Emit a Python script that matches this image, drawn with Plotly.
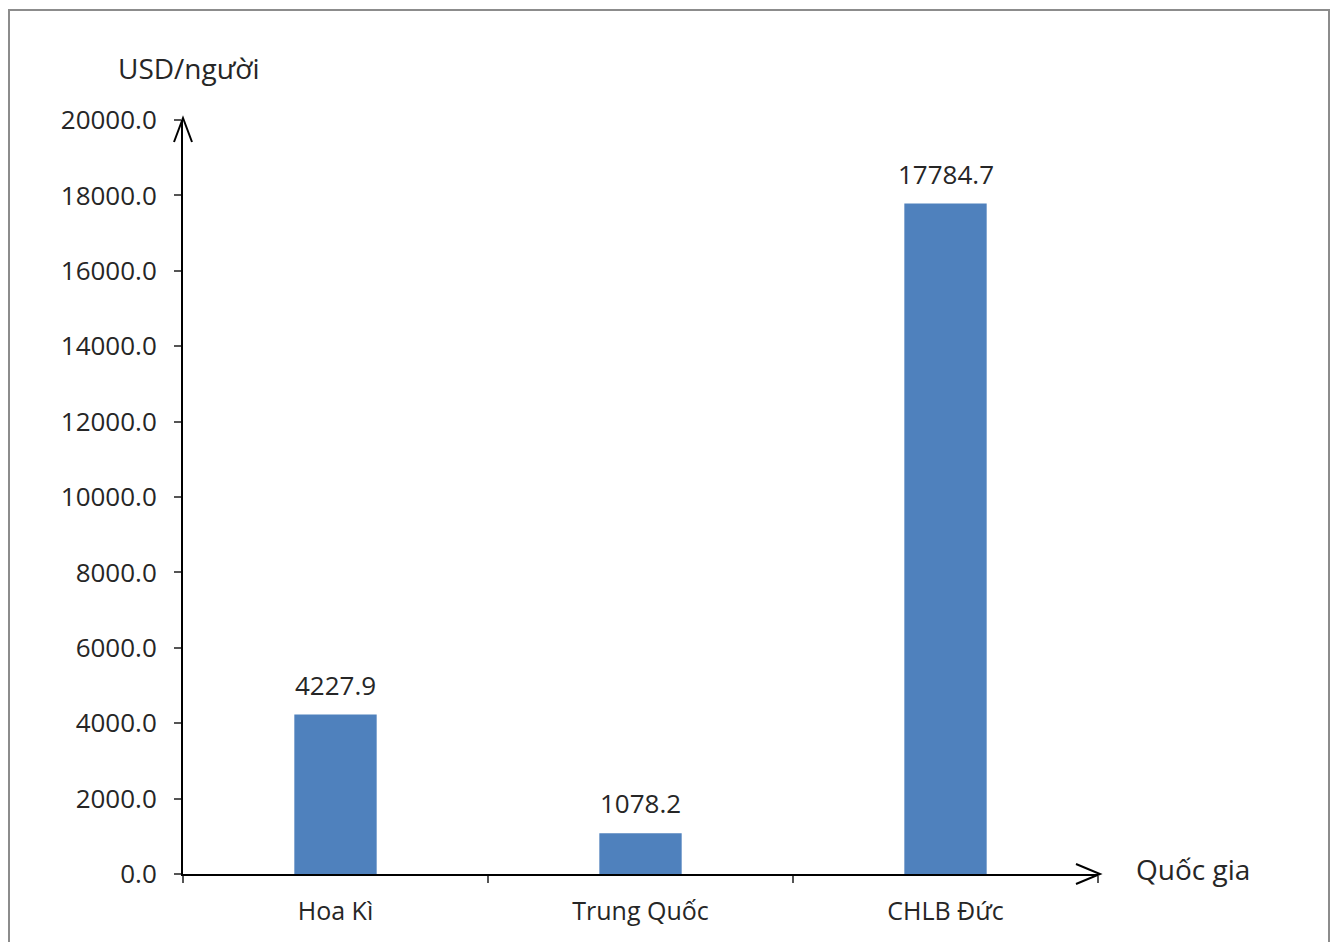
import plotly.graph_objects as go

categories = ["Hoa Kì", "Trung Quốc", "CHLB Đức"]
values = [4227.9, 1078.2, 17784.7]
y_ticks = [0, 2000, 4000, 6000, 8000, 10000, 12000, 14000, 16000, 18000, 20000]

# page has an 8px body margin: compensate
OFF = 8
W, H = 1339 - OFF, 942 - OFF
L, R, T, B = 183 - OFF, 241, 120 - OFF, 68

font_family = "Open Sans"
text_color = "#262626"

fig = go.Figure(go.Bar(
    x=categories, y=values,
    marker=dict(color="#4F81BD", line=dict(width=0)),
    width=0.27,
))

# data labels above bars, positioned through the data axes
for c, v in zip(categories, values):
    fig.add_annotation(x=c, y=v, xref="x", yref="y", text=f"{v:.1f}",
                       showarrow=False, yanchor="middle", yshift=30,
                       font=dict(family=font_family, size=26, color=text_color))

fig.update_layout(
    width=W, height=H,
    margin=dict(l=L, r=R, t=T, b=B),
    paper_bgcolor="white", plot_bgcolor="white",
    showlegend=False,
    font=dict(family=font_family, size=26, color=text_color),
)

fig.update_xaxes(
    type="category", range=[-0.5, 2.5],
    showline=True, linecolor="black", linewidth=2,
    ticks="outside", tickson="boundaries", ticklen=7, tickcolor="#555", tickwidth=1.5,
    showgrid=False, zeroline=False, ticklabelstandoff=14,
    tickfont=dict(family=font_family, size=25, color=text_color),
)
fig.update_yaxes(
    range=[0, 20000], tickvals=y_ticks, ticktext=[f"{v:.1f}" for v in y_ticks],
    showline=True, linecolor="black", linewidth=2,
    ticks="outside", ticklen=7, tickcolor="#555", tickwidth=1.5,
    showgrid=False, zeroline=False, ticklabelstandoff=12,
    tickfont=dict(family=font_family, size=26, color=text_color),
)

pw, ph = W - L - R, H - T - B

# Outer border (page coords: left 9, top 10, right 1329)
fig.add_shape(type="rect", xref="paper", yref="paper",
              x0=-(L - (9 - OFF)) / pw, x1=1 + (R - (1339 - 1329)) / pw,
              y0=-(B + 20) / ph, y1=1 + (T - (10 - OFF)) / ph,
              line=dict(color="#8c8c8c", width=2), fillcolor="rgba(0,0,0,0)", layer="below")

# Arrow heads (open chevrons) on axes
fig.add_shape(type="path", xref="paper", yref="paper",
              path=f"M {-9/pw} {1 - 22/ph} L 0 {1 + 2/ph} L {9/pw} {1 - 22/ph}",
              line=dict(color="black", width=2))
fig.add_shape(type="path", xref="paper", yref="paper",
              path=f"M {1 - 22/pw} {10/ph} L {1 + 2/pw} 0 L {1 - 22/pw} {-10/ph}",
              line=dict(color="black", width=2))

fig.add_annotation(text="USD/người", xref="paper", yref="paper",
                   x=-(183 - 116) / pw, y=1 + (120 - 68) / ph, xanchor="left", yanchor="middle",
                   showarrow=False, font=dict(family=font_family, size=28, color=text_color))
fig.add_annotation(text="Quốc gia", xref="paper", yref="paper",
                   x=1 + (1134 - 1098) / pw, y=(874 - 869) / ph, xanchor="left", yanchor="middle",
                   showarrow=False, font=dict(family=font_family, size=28, color=text_color))

fig.write_html("out.html")
